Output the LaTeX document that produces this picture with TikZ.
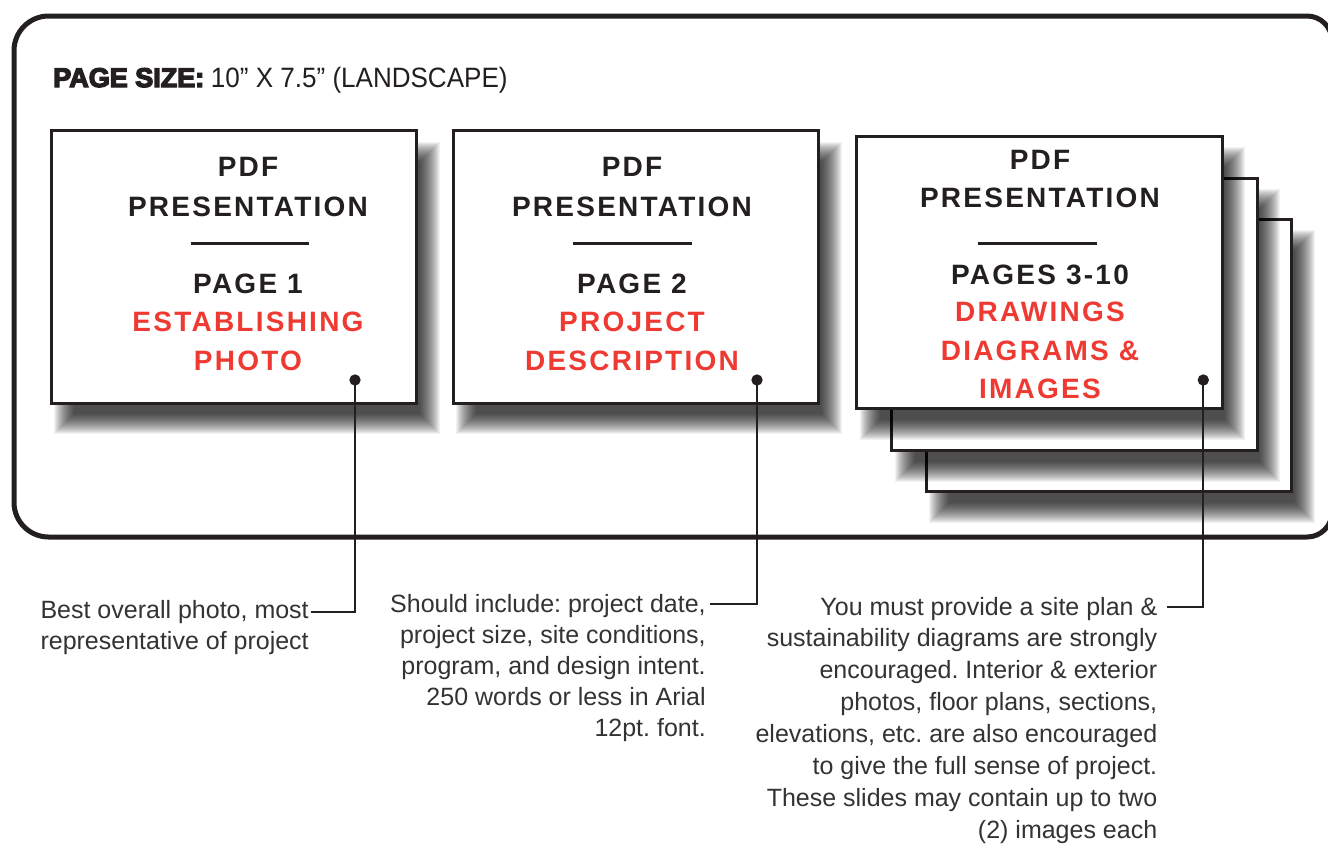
\documentclass[tikz,border=0pt]{standalone}
\usepackage{fontspec}
\setmainfont{Liberation Sans}
\newfontfamily\boxfont[LetterSpace=8]{Liberation Sans}
\newfontfamily\heavyfont[FakeBold=5]{Liberation Sans}
\newfontfamily\lightfont[FakeStretch=0.93]{Liberation Sans}
\newfontfamily\notefont{Liberation Sans}
\definecolor{ink}{HTML}{231F20}
\definecolor{redtxt}{HTML}{EE3A32}
\definecolor{notegray}{HTML}{333333}
\newcommand{\softshadow}[4]{%
  \foreach \k in {-10,-9,...,10}{%
    \fill[black,opacity=0.05] ({#1+13+(\k)},{#2+21+(\k)}) rectangle ({#3+13-(\k)},{#4+21-(\k)});}}
\begin{document}
\frenchspacing
\begin{tikzpicture}[x=0.75pt,y=-0.75pt,
  frame/.style={draw=ink,line width=3.75pt},
  pagebox/.style={draw=ink,line width=2.25pt,fill=white,minimum width=274.25pt,minimum height=204.3pt,inner sep=0pt,outer sep=0pt},
  boxtxt/.style={anchor=base,inner sep=0pt,text=ink,font=\boxfont\bfseries\fontsize{21}{25}\selectfont},
  redline/.style={boxtxt,text=redtxt},
  sepline/.style={draw=ink,line width=2pt},
  dotmark/.style={circle,fill=ink,inner sep=0pt,minimum size=8.5pt},
  conn/.style={draw=ink,line width=1.5pt},
  note/.style={anchor=base east,inner sep=0pt,text=notegray,font=\notefont\frenchspacing\fontsize{18.75}{22}\selectfont}]
\useasboundingbox (0,0) rectangle (1328,844);
\clip (0,0) rectangle (1328,844);
\fill[white] (0,0) rectangle (1328,844);
% outer frame
\draw[frame,rounded corners=18.75pt] (700,16) -- (1332,16) -- (1332,537) -- (700,537)
  [rounded corners=26pt] -- (14,537) -- (14,16) -- cycle;
% header
\node[anchor=base west,inner sep=0pt,text=ink] (hdr) at (53,87)
  {{\heavyfont\bfseries\fontsize{20.25}{24}\selectfont PAGE SIZE:}\hspace{5pt}{\lightfont\fontsize{21}{24}\selectfont 10” X 7.5” (LANDSCAPE)}};
% stacked pages
\softshadow{926}{219}{1291.7}{491.7}
\node[pagebox] (p3c) at (1108.85,355.35) {};
\softshadow{891.7}{178.3}{1256.7}{450.7}
\node[pagebox] (p3b) at (1074.2,314.5) {};
\softshadow{856.7}{136}{1222.3}{408.7}
\node[pagebox] (p3) at (1039.5,272.35) {};
\softshadow{51}{131}{416.7}{403.3}
\node[pagebox] (p1) at (233.85,267.15) {};
\softshadow{453}{131}{818.7}{403.3}
\node[pagebox] (p2) at (635.85,267.15) {};
% page 1 text
\node[boxtxt] (p1a) at (248,176.7) {PDF};
\node[boxtxt] (p1b) at (248,216) {PRESENTATION};
\draw[sepline] (190.7,243.3) -- (309.3,243.3);
\node[boxtxt] (p1c) at (248,293.3) {PAGE 1};
\node[redline] (p1d) at (248,331.7) {ESTABLISHING};
\node[redline] (p1e) at (248,370) {PHOTO};
% page 2 text
\node[boxtxt] (p2a) at (632,176.7) {PDF};
\node[boxtxt] (p2b) at (632,216) {PRESENTATION};
\draw[sepline] (573,243.3) -- (691.6,243.3);
\node[boxtxt] (p2c) at (632,293.3) {PAGE 2};
\node[redline] (p2d) at (632,331.7) {PROJECT};
\node[redline] (p2e) at (632,370) {DESCRIPTION};
% page 3 text
\node[boxtxt] (p3a) at (1040,169.3) {PDF};
\node[boxtxt] (p3b2) at (1040,207.3) {PRESENTATION};
\draw[sepline] (977.7,243.3) -- (1096.7,243.3);
\node[boxtxt] (p3d) at (1040,284) {PAGES 3-10};
\node[redline] (p3e) at (1040,321.7) {DRAWINGS};
\node[redline] (p3f) at (1040,360.7) {DIAGRAMS \&};
\node[redline] (p3g) at (1040,398.3) {IMAGES};
% notes
\node[note] (n1a) at (309,618.3) {Best overall photo, most};
\node[note] (n1b) at (309,649.3) {representative of project};
\node[note] (n2a) at (706,612.3) {Should include: project date,};
\node[note] (n2b) at (706,643.4) {project size, site conditions,};
\node[note] (n2c) at (706,674.5) {program, and design intent.};
\node[note] (n2d) at (706,705.6) {250 words or less in Arial};
\node[note] (n2e) at (706,736.7) {12pt. font.};
\node[note] (n3a) at (1157.5,615) {You must provide a site plan \&};
\node[note] (n3b) at (1157.5,646.9) {sustainability diagrams are strongly};
\node[note] (n3c) at (1157.5,678.8) {encouraged. Interior \& exterior};
\node[note] (n3d) at (1157.5,710.7) {photos, floor plans, sections,};
\node[note] (n3e) at (1157.5,742.6) {elevations, etc. are also encouraged};
\node[note] (n3f) at (1157.5,774.5) {to give the full sense of project.};
\node[note] (n3g) at (1157.5,806.4) {These slides may contain up to two};
\node[note] (n3h) at (1157.5,838.3) {(2) images each};
% connectors
\node[dotmark] (d1) at (355,380) {};
\node[dotmark] (d2) at (757,380) {};
\node[dotmark] (d3) at (1203.3,380) {};
\coordinate (e1) at (311,611.7);
\coordinate (e2) at (710,604);
\coordinate (e3) at (1167,606.7);
\draw[conn] (d1.center) |- (e1);
\draw[conn] (d2.center) |- (e2);
\draw[conn] (d3.center) |- (e3);
\end{tikzpicture}
\end{document}
